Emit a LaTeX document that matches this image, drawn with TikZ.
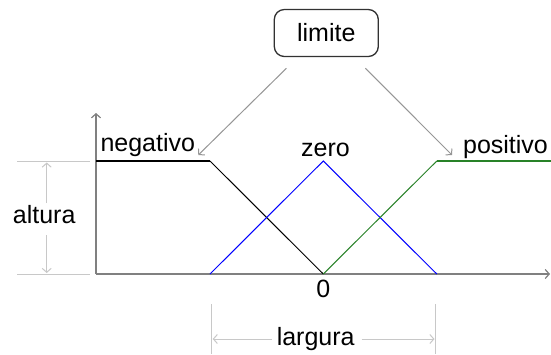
\documentclass[tikz,border=0pt]{standalone}
\usepackage{fontspec}
\setmainfont{Liberation Sans}
\usetikzlibrary{arrows.meta}
\definecolor{axisgray}{RGB}{128,128,128}
\definecolor{dimgray}{RGB}{200,200,200}
\definecolor{arrgray}{RGB}{150,150,150}
\definecolor{boxgray}{RGB}{50,50,50}
\definecolor{mygreen}{RGB}{40,130,40}
\definecolor{myblue}{RGB}{0,0,255}
\begin{document}
\begin{tikzpicture}[x=1pt,y=-1pt,
  lbl/.style={font=\fontsize{25}{30}\selectfont, inner sep=0pt, anchor=base},
  axisline/.style={draw=axisgray, line width=1.2pt},
  opentip/.style={-{Straight Barb[length=4pt,width=9pt]}},
  dimline/.style={draw=dimgray, line width=1pt},
  limarrow/.style={draw=arrgray, line width=1pt, opentip},
  limbox/.style={draw=boxgray, line width=1.3pt, rounded corners=10pt,
    minimum width=104pt, minimum height=47pt, inner sep=0pt,
    font=\fontsize{25}{30}\selectfont},
  slant/.style={line width=1pt},
  flat/.style={line width=1.8pt}
]
\useasboundingbox (0,0) rectangle (551,354);
\fill[white] (0,0) rectangle (551,354);

% key points
\coordinate (O) at (96,274);
\coordinate (Ytop) at (96,113);
\coordinate (Xend) at (550,274);
\coordinate (nA) at (96,161);
\coordinate (nB) at (210,161);
\coordinate (Z) at (323.3,274);
\coordinate (L) at (210,274);
\coordinate (T) at (323.3,161);
\coordinate (R) at (436.8,274);
\coordinate (pB) at (436.8,161);
\coordinate (pE) at (551,161);

% altura reference lines
\coordinate (hTa) at (17,161);
\coordinate (hTb) at (90,161);
\coordinate (hBa) at (17,274);
\coordinate (hBb) at (90,274);
\draw[dimline] (hTa) -- (hTb);
\draw[dimline] (hBa) -- (hBb);

% axes
\draw[axisline, opentip] (O) -- (Ytop);
\draw[axisline, opentip] (O) -- (Xend);

% membership functions
\draw[black, slant] (nB) -- (Z);
\draw[black, flat] (nA) -- (nB);
\draw[myblue, slant] (L) -- (T) -- (R);
\draw[mygreen, slant] (Z) -- (pB);
\draw[mygreen, flat] (pB) -- (pE);

% labels
\node[lbl] (neg) at (147.8,151.5) {negativo};
\node[lbl] (zer) at (325.5,156) {zero};
\node[lbl] (pos) at (505.5,153.3) {positivo};
\node[lbl] (zeroval) at (323.3,297.7) {0};

% limite box and arrows
\node[limbox] (lim) at (326.3,33) {limite};
\coordinate (la) at (286.4,68.3);
\coordinate (lt) at (198.3,155);
\coordinate (ra) at (365.4,68.3);
\coordinate (rt) at (452,155);
\draw[limarrow] (la) -- (lt);
\draw[limarrow] (ra) -- (rt);

% altura dimension
\node[lbl] (alt) at (44.2,223.3) {altura};
\coordinate (aU1) at (46.7,203);
\coordinate (aU2) at (46.7,162.5);
\coordinate (aD1) at (46.7,235);
\coordinate (aD2) at (46.7,273);
\draw[dimline, opentip] (aU1) -- (aU2);
\draw[dimline, opentip] (aD1) -- (aD2);

% largura dimension
\coordinate (wLa) at (211.7,304);
\coordinate (wLb) at (211.7,354);
\coordinate (wRa) at (435.7,304);
\coordinate (wRb) at (435.7,354);
\draw[dimline] (wLa) -- (wLb);
\draw[dimline] (wRa) -- (wRb);
\node[lbl] (larg) at (315.7,345) {largura};
\coordinate (gL1) at (271.7,339);
\coordinate (gL2) at (212.7,339);
\coordinate (gR1) at (361.7,339);
\coordinate (gR2) at (434.5,339);
\draw[dimline, opentip] (gL1) -- (gL2);
\draw[dimline, opentip] (gR1) -- (gR2);
\end{tikzpicture}
\end{document}
